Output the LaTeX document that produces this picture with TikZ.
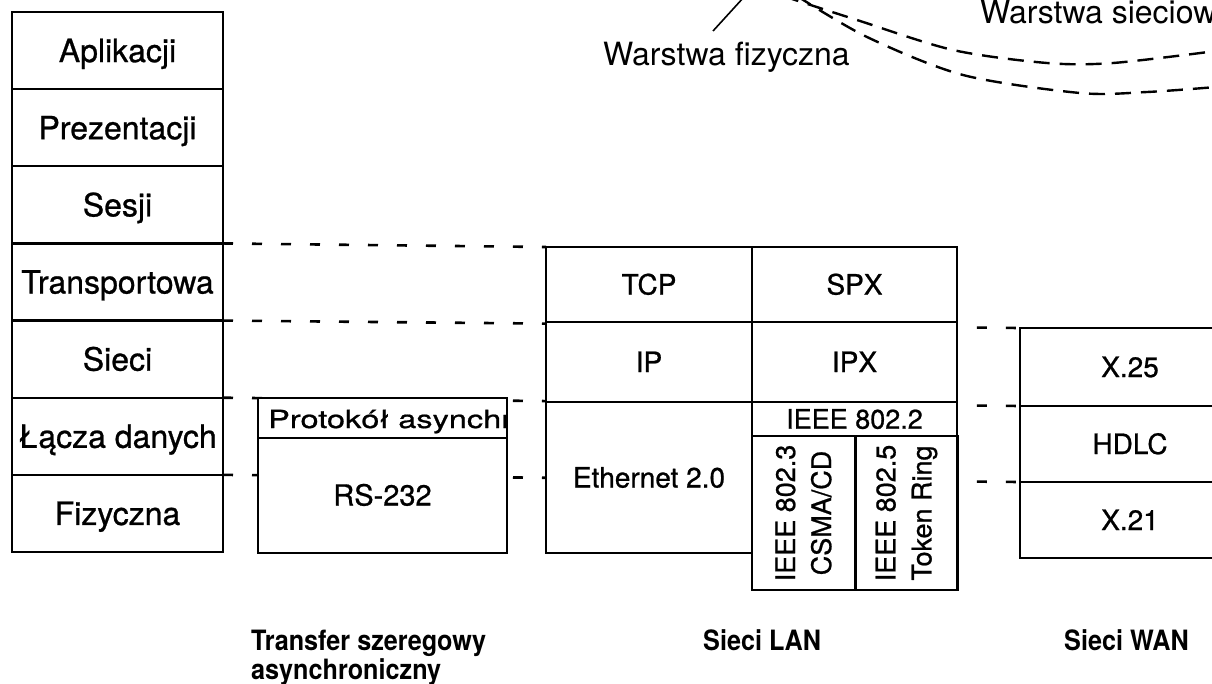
\documentclass[tikz,border=0pt]{standalone}
\usepackage{fontspec}
\setmainfont{TeX Gyre Heros}
\newfontfamily\boxfont[FakeBold=0.8]{TeX Gyre Heros}
\newfontfamily\widefont[FakeStretch=1.3,FakeBold=0.8]{TeX Gyre Heros}
\newfontfamily\condfont[FakeStretch=0.9]{TeX Gyre Heros}
\pgfdeclarelayer{background}
\pgfsetlayers{background,main}
\tikzset{
  box/.style={draw, line width=2.4pt, fill=white, inner sep=0pt, outer sep=0pt, anchor=north west},
  osi/.style={box, minimum width=211pt, minimum height=77.14pt, font=\boxfont\fontsize{32}{38}\selectfont, text height=23pt, text depth=0pt},
  proto/.style={box, font=\boxfont\fontsize{28}{34}\selectfont, text height=20pt, text depth=0pt},
  vbox/.style={draw, line width=2.4pt, fill=white, inner sep=0pt, outer sep=0pt, rotate=90, minimum width=154pt, minimum height=103pt, align=center, font=\boxfont\fontsize{27}{36}\selectfont},
  lbl/.style={inner sep=0pt, anchor=base west, font=\fontsize{32}{38}\selectfont},
  blbl/.style={inner sep=0pt, anchor=base west, font=\condfont\bfseries\fontsize{28}{32}\selectfont},
  hdash/.style={line width=2.6pt, dash pattern=on 10pt off 19pt},
  curvedash/.style={line width=2.4pt, dash pattern=on 16pt off 10pt},
  leader/.style={line width=1.6pt}
}
\begin{document}
\begin{tikzpicture}[x=1pt,y=-1pt]
\useasboundingbox (0,0) rectangle (1212,683);
\begin{scope}
\clip (0,0) rectangle (1212,683);
% OSI column
\node[osi] (apl) at (12,12) {Aplikacji};
\node[osi] (prez) at (12,89.14) {Prezentacji};
\node[osi] (ses) at (12,166.29) {Sesji};
\node[osi] (trans) at (12,243.43) {Transportowa};
\node[osi] (sieci) at (12,320.57) {Sieci};
\node[osi] (lacza) at (12,397.71) {Łącza danych};
\node[osi] (fiz) at (12,474.86) {Fizyczna};
% RS-232
\node[box, minimum width=249pt, minimum height=40pt] (rs1) at (258,398) {};
\node[proto, minimum width=249pt, minimum height=115pt, font=\boxfont\fontsize{29}{34}\selectfont] (rs2) at (258,438) {RS-232};
\begin{scope}
\clip (rs1.south west) rectangle (rs1.north east);
\node[anchor=west, inner sep=0pt, font=\widefont\fontsize{25}{30}\selectfont, text height=18pt, text depth=0pt] (prot) at (268,419) {Protokół asynchr};
\end{scope}
% LAN
\node[proto, minimum width=206pt, minimum height=75pt] (tcp) at (546,247) {TCP};
\node[proto, minimum width=205pt, minimum height=75pt] (spx) at (752,247) {SPX};
\node[proto, minimum width=206pt, minimum height=80pt] (ip) at (546,322) {IP};
\node[proto, minimum width=205pt, minimum height=80pt] (ipx) at (752,322) {IPX};
\node[proto, minimum width=206pt, minimum height=151pt] (eth) at (546,402) {Ethernet 2.0};
\node[proto, minimum width=205pt, minimum height=34pt, font=\boxfont\fontsize{27}{32}\selectfont, text height=19.4pt] (i22) at (752,402) {IEEE 802.2};
\node[vbox] (i23) at (803.5,513) {IEEE 802.3\\CSMA/CD};
\node[vbox, minimum height=102pt] (i25) at (906.5,513) {IEEE 802.5\\Token Ring};
% WAN
\node[proto, minimum width=220pt, minimum height=78pt] (x25) at (1020,328) {X.25};
\node[proto, minimum width=220pt, minimum height=76pt] (hdlc) at (1020,406) {HDLC};
\node[proto, minimum width=220pt, minimum height=76pt] (x21) at (1020,482) {X.21};
% top labels
\node[lbl] (wf) at (603,65) {Warstwa fizyczna};
\node[lbl] (ws) at (980,23) {Warstwa sieciow};
\coordinate (wfA) at (713,31);
\coordinate (wfB) at (744,-3);
\draw[leader] (wfA) -- (wfB);
\draw[curvedash] plot[smooth] coordinates {(783,-4) (857,20) (953,50) (1047,63) (1113,63) (1216,51)};
\draw[curvedash] plot[smooth] coordinates {(797,-4) (867,37) (963,75) (1080,93) (1147,92) (1216,87)};
% bottom labels
\node[blbl] (tsz) at (251,650) {Transfer szeregowy};
\node[blbl] (asy) at (251,679) {asynchroniczny};
\node[blbl] (lan) at (703,650) {Sieci LAN};
\node[blbl] (wan) at (1064,650) {Sieci WAN};
% dashed layer lines
\begin{pgfonlayer}{background}
\draw[hdash] (trans.north east) -- (tcp.north west);
\draw[hdash] (sieci.north east) -- (x25.north west);
\draw[hdash] (lacza.north east) -- (hdlc.north west);
\draw[hdash] (fiz.north east) -- (x21.north west);
\end{pgfonlayer}
\end{scope}
\end{tikzpicture}
\end{document}
